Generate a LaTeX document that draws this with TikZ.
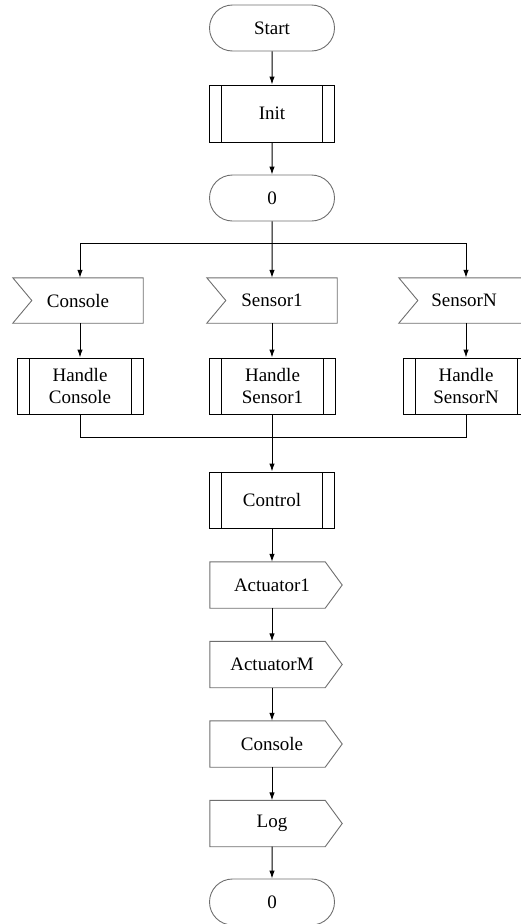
\documentclass[tikz,border=0pt]{standalone}
\usepackage{fontspec}
\setmainfont{Liberation Serif}
\usetikzlibrary{arrows.meta,shapes.misc}
\definecolor{edgegray}{RGB}{110,110,110}

\begin{document}
\begin{tikzpicture}[
    x=1pt, y=-1pt,
    every node/.style={font=\fontsize{19}{21.5}\selectfont, align=center, inner sep=0pt},
    term/.style={rounded rectangle, draw=edgegray, line width=0.9pt,
      minimum width=125pt, minimum height=46pt},
    subproc/.style={rectangle, draw=black, line width=1pt,
      minimum width=125pt, minimum height=57pt,
      path picture={
        \draw[line width=1pt] ([xshift=12pt]path picture bounding box.north west) -- ([xshift=12pt]path picture bounding box.south west);
        \draw[line width=1pt] ([xshift=-12pt]path picture bounding box.north east) -- ([xshift=-12pt]path picture bounding box.south east);}},
    recv/.style={rectangle, minimum width=130pt, minimum height=45pt},
    send/.style={rectangle, minimum width=124pt, minimum height=46pt},
    outline/.style={draw=edgegray, line width=0.9pt, line join=miter},
    arrow/.style={-{Latex[length=8pt,width=5.5pt]}, line width=1pt}
  ]
    \useasboundingbox (0,0) rectangle (521,924);

    \node[term] (start) at (272,28) {Start};
    \node[subproc] (init) at (272,113.5) {Init};
    \node[term] (zero) at (272,198) {0};

    % input signals
    \node[recv] (rcons) at (78,300.5) {Console};
    \node[recv] (rsen1) at (272,300.5) {Sensor1};
    \node[recv] (rsenN) at (464,300.5) {SensorN};
    \foreach \n in {rcons,rsen1,rsenN}
      \draw[outline] (\n.north west) -- (\n.north east) -- (\n.south east)
        -- (\n.south west) -- ([xshift=19pt]\n.west) -- cycle;

    \node[subproc, minimum width=126pt, minimum height=56pt] (hcons) at (80,386) {Handle\\Console};
    \node[subproc, minimum width=126pt, minimum height=56pt] (hsen1) at (272.5,386) {Handle\\Sensor1};
    \node[subproc, minimum width=126pt, minimum height=56pt] (hsenN) at (466,386) {Handle\\SensorN};

    \node[subproc, minimum height=56pt] (ctrl) at (272,500) {Control};

    % output signals
    \node[send] (act1) at (272,585) {Actuator1};
    \node[send] (actM) at (272,664.5) {ActuatorM};
    \node[send] (scons) at (272,744) {Console};
    \node[send] (log) at (272,823.5) {Log};
    \foreach \n in {act1,actM,scons,log}
      \draw[outline] (\n.north west) -- ([xshift=-9pt]\n.north east) -- ([xshift=8pt]\n.east)
        -- ([xshift=-9pt]\n.south east) -- (\n.south west) -- cycle;

    \node[term] (stop) at (272,902) {0};

    \coordinate (split) at (272,243);
    \coordinate (join) at (272,437);

    \draw[arrow] (start) -- (init);
    \draw[arrow] (init) -- (zero);
    \draw[arrow] (zero) -- (rsen1);
    \draw[arrow] (split) -| (rcons.north -| hcons);
    \draw[arrow] (split) -| (rsenN.north -| hsenN);

    \draw[arrow] (rcons.south -| hcons) -- (hcons);
    \draw[arrow] (rsen1) -- (hsen1.north -| rsen1);
    \draw[arrow] (rsenN.south -| hsenN) -- (hsenN);

    \draw[line width=1pt] (hcons.south) |- (join);
    \draw[line width=1pt] (hsenN.south) |- (join);
    \draw[arrow] (hsen1.south -| ctrl) -- (ctrl);

    \draw[arrow] (ctrl) -- (act1);
    \draw[arrow] (act1) -- (actM);
    \draw[arrow] (actM) -- (scons);
    \draw[arrow] (scons) -- (log);
    \draw[arrow] (log) -- (stop);
  \end{tikzpicture}
\end{document}
